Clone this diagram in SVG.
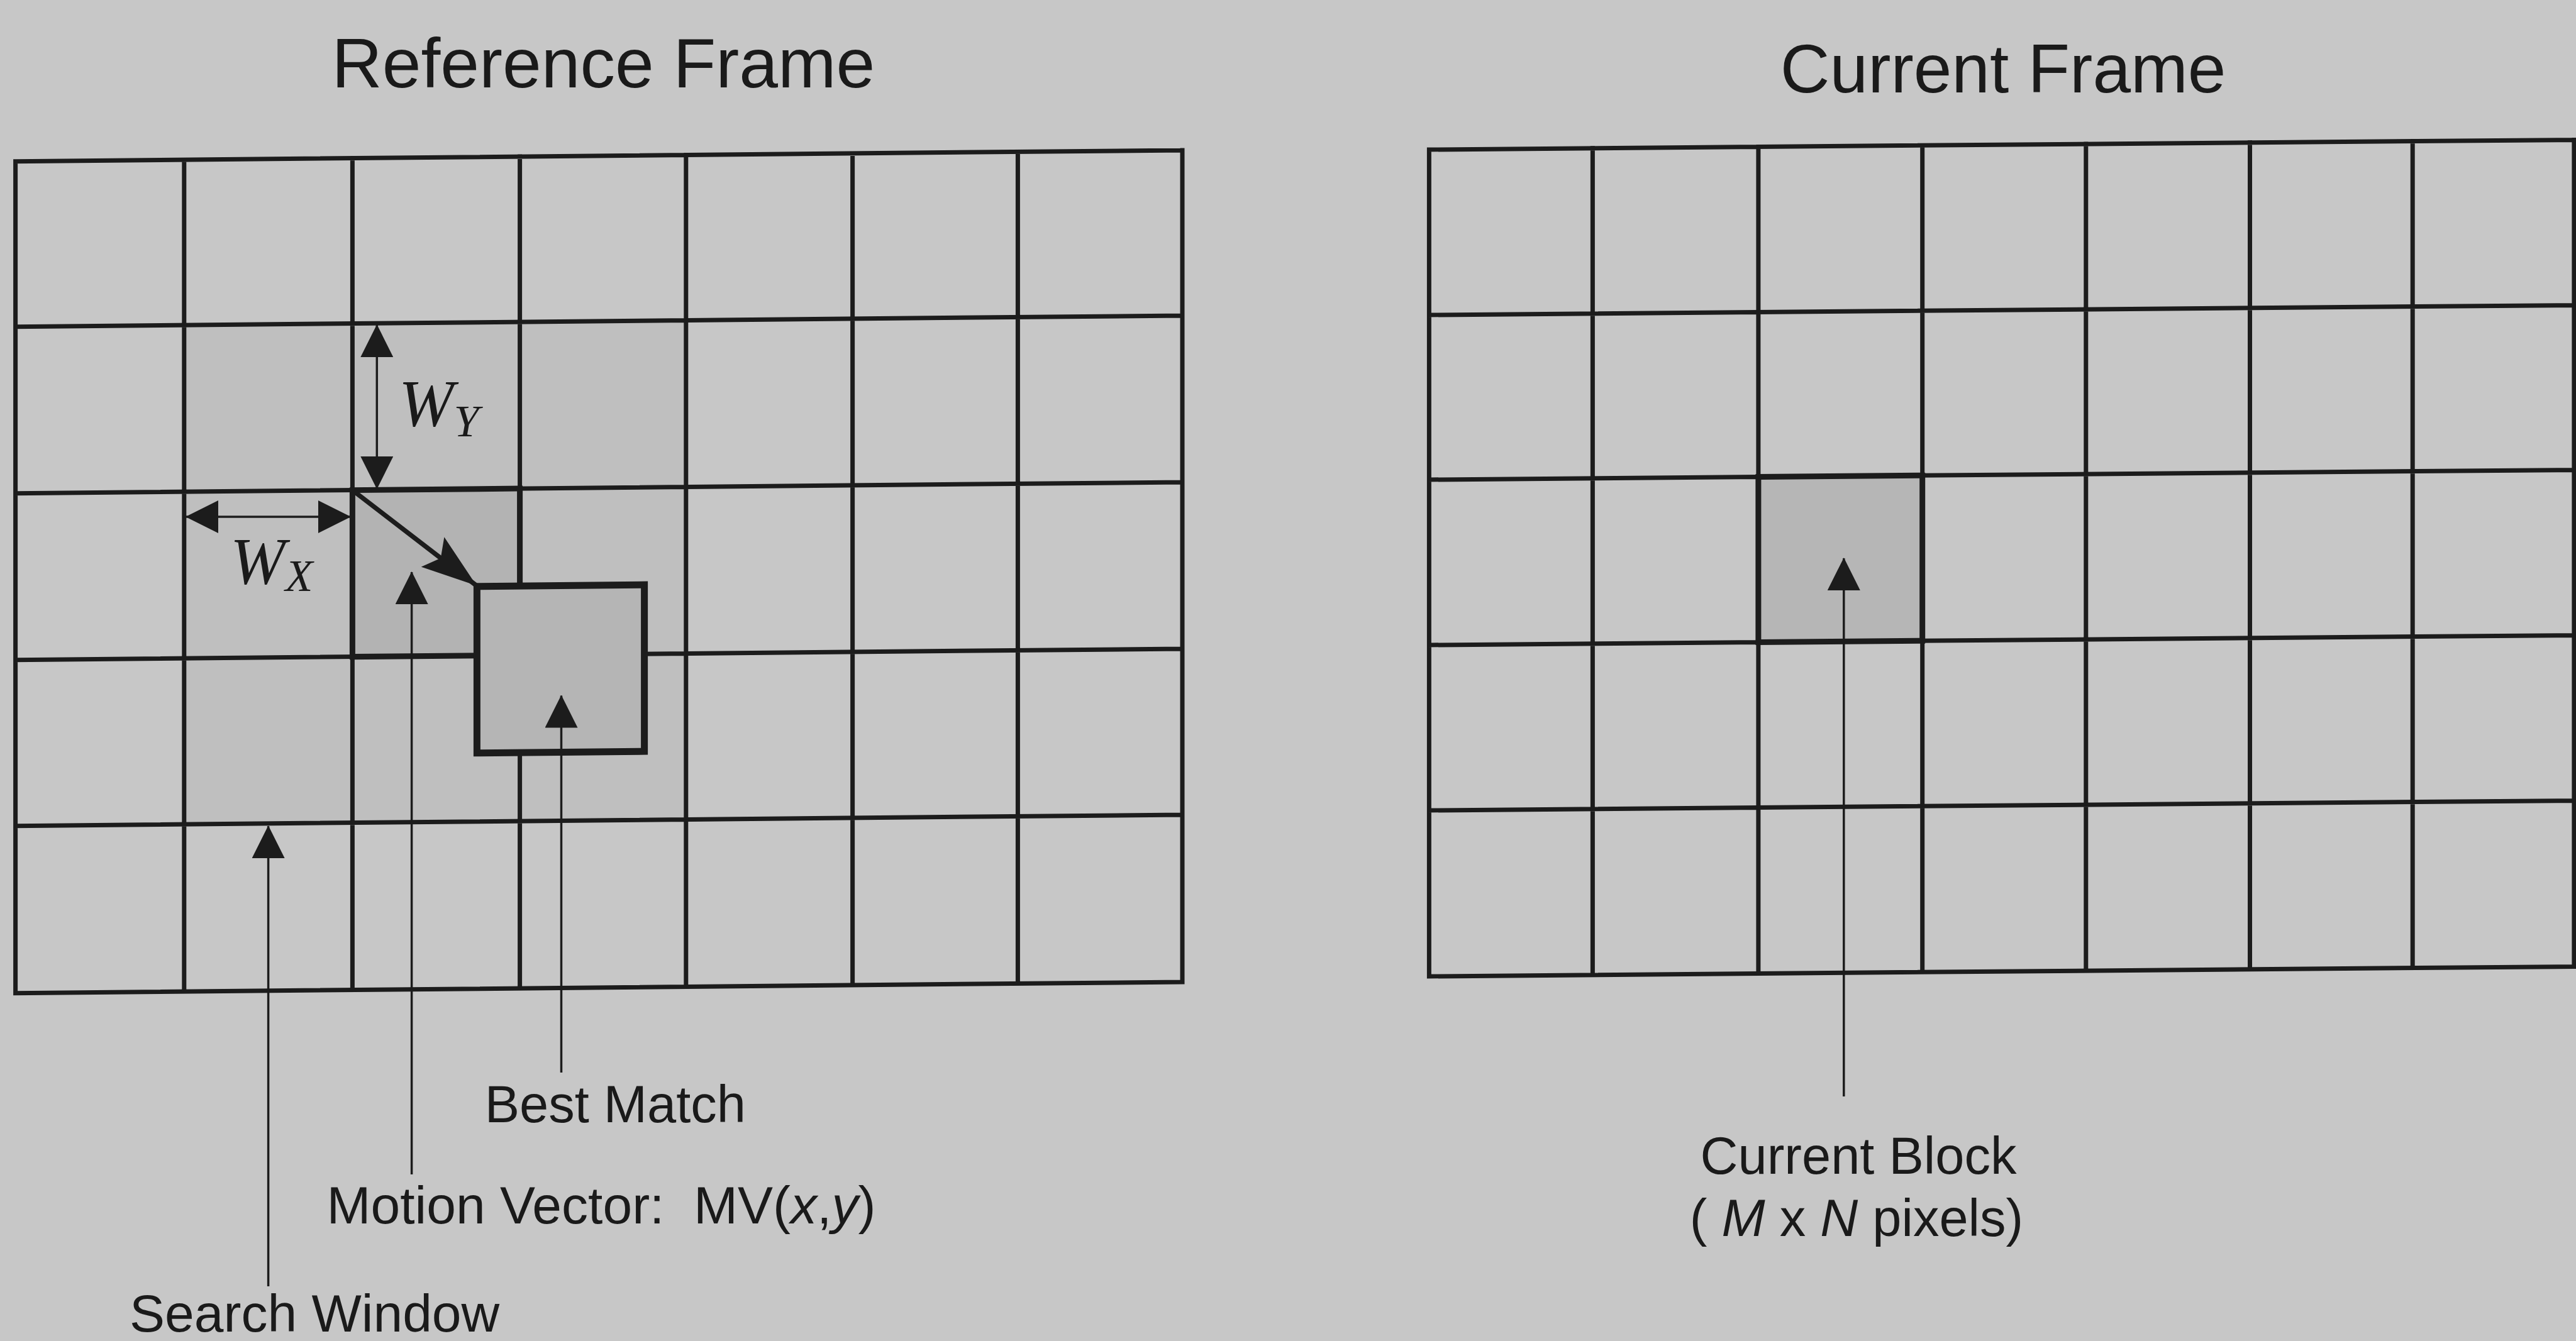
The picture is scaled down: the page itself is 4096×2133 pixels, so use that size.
<svg xmlns="http://www.w3.org/2000/svg" width="4096" height="2133" viewBox="0 0 4096 2133">
<defs>
<style>
.grid{fill:none;stroke:#1c1c1c;stroke-width:7;stroke-linecap:square}
.lbl{font-family:"Liberation Sans",Arial,sans-serif;fill:#1a1a1a}
.sym{font-family:"Liberation Serif","Times New Roman",serif;font-style:italic;fill:#1a1a1a}
.ptr{stroke:#1c1c1c;stroke-width:3.5;fill:none}
.blk{stroke:#1c1c1c;stroke-linejoin:miter}
</style>
<marker id="ah" markerUnits="userSpaceOnUse" markerWidth="52" markerHeight="52" viewBox="0 0 52 52" refX="51" refY="26" orient="auto-start-reverse"><path d="M0,0 L52,26 L0,52 z" fill="#1c1c1c"/></marker>
<marker id="mvh" markerUnits="userSpaceOnUse" markerWidth="88" markerHeight="60" viewBox="0 0 88 60" refX="87" refY="30" orient="auto"><path d="M0,0 L88,30 L0,60 L16,30 z" fill="#1c1c1c"/></marker>
</defs>
<rect x="0" y="0" width="4096" height="2133" fill="#c7c7c7"/>

<g id="reference-frame" transform="skewY(-0.55)">
  <rect id="search-window" x="292.8" y="520" width="798" height="794" fill="#bfbfbf"/>
  <path class="grid" d="M24.6 257H1880M24.6 520H1880M24.6 785H1880M24.6 1050H1880M24.6 1314H1880M24.6 1580H1880M24.6 257V1580M292.8 257V1580M560.4 257V1580M826.6 257V1580M1090.8 257V1580M1355.6 257V1580M1618.4 257V1580M1880 257V1580"/>
  <rect id="original-block" class="blk" x="560.4" y="785" width="266.2" height="265" fill="#b3b3b3" stroke-width="9"/>
  <rect id="best-match" class="blk" x="758.4" y="940" width="266.2" height="265" fill="#b5b5b5" stroke-width="11"/>
</g>

<g id="current-frame" transform="translate(2272.4 0) skewY(-0.49) translate(-2272.4 0)">
  <path class="grid" d="M2272.4 238H4092.9M2272.4 501H4092.9M2272.4 763H4092.9M2272.4 1026H4092.9M2272.4 1289H4092.9M2272.4 1553H4092.9M2272.4 238V1553M2532.4 238V1553M2795.9 238V1553M3056.7 238V1553M3316.8 238V1553M3577.5 238V1553M3836.2 238V1553M4092.9 238V1553"/>
  <rect id="current-block" class="blk" x="2795.9" y="763" width="260.8" height="263" fill="#b6b6b6" stroke-width="9"/>
</g>

<g id="titles">
  <text class="lbl" x="527.6" y="138.6" font-size="111">Reference Frame</text>
  <text class="lbl" x="2830.8" y="146.8" font-size="109">Current Frame</text>
</g>

<g id="window-labels">
  <text class="sym" x="634" y="676.5" font-size="105">W<tspan dy="17" font-size="72">Y</tspan></text>
  <text class="sym" x="366" y="927.6" font-size="105">W<tspan dy="12.4" font-size="72">X</tspan></text>
</g>

<g id="connectors">
  <line id="wy-arrow" class="ptr" x1="599.3" y1="517" x2="599.3" y2="777" marker-start="url(#ah)" marker-end="url(#ah)"/>
  <line id="wx-arrow" class="ptr" x1="296" y1="822" x2="557" y2="822" marker-start="url(#ah)" marker-end="url(#ah)"/>
  <line id="mv-arrow" x1="560.4" y1="779.6" x2="757" y2="931" stroke="#1c1c1c" stroke-width="7.5" marker-end="url(#mvh)"/>
  <line id="ptr-search" class="ptr" x1="426.6" y1="2046" x2="426.6" y2="1314" marker-end="url(#ah)"/>
  <line id="ptr-mv" class="ptr" x1="654.6" y1="1868" x2="654.6" y2="910" marker-end="url(#ah)"/>
  <line id="ptr-best" class="ptr" x1="892.5" y1="1706" x2="892.5" y2="1106.5" marker-end="url(#ah)"/>
  <line id="ptr-current" class="ptr" x1="2931.8" y1="1744" x2="2931.8" y2="888" marker-end="url(#ah)"/>
</g>

<g id="labels">
  <text id="lbl-best" class="lbl" x="770.7" y="1785" font-size="83">Best Match</text>
  <text id="lbl-mv" class="lbl" x="519.5" y="1946" font-size="84" xml:space="preserve">Motion Vector:  MV(<tspan font-style="italic">x</tspan>,<tspan font-style="italic">y</tspan>)</text>
  <text id="lbl-search" class="lbl" x="206" y="2118" font-size="84">Search Window</text>
  <text id="lbl-current" class="lbl" x="2955" y="1867" font-size="83" text-anchor="middle">Current Block</text>
  <text id="lbl-size" class="lbl" x="2952" y="1966" font-size="83" text-anchor="middle" xml:space="preserve">( <tspan font-style="italic">M</tspan> x <tspan font-style="italic">N</tspan> pixels)</text>
</g>
</svg>
